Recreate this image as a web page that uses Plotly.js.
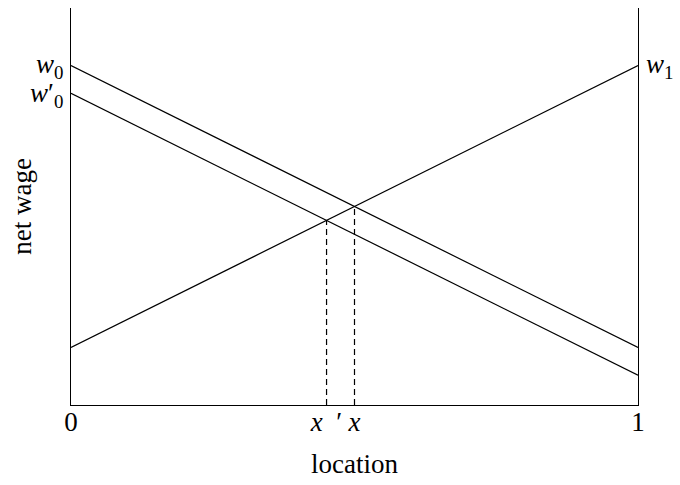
<!DOCTYPE html>
<html>
<head>
<meta charset="utf-8">
<script src="https://cdn.plot.ly/plotly-3.0.1.min.js"></script>
<style>html,body{margin:0;padding:0;background:#fff;}#chart{width:680px;height:485px;}</style>
</head>
<body>
<div id="chart"></div>
<script>
// Data
var locX = [0, 1];
var w0Line = [0.855, 0.145];      // net wage of location 0 (original)
var w0PrimeLine = [0.785, 0.075]; // net wage of location 0 (after change)
var w1Line = [0.145, 0.855];      // net wage of location 1
var xTickText = ["0", "<i>x</i>\u00a0\u00a0\u2032", "<i>x</i>", "1"];

function cross(a, b) {
  // intersection of two straight lines given by their values at x=0 and x=1
  var sa = a[1] - a[0], sb = b[1] - b[0];
  var x = (b[0] - a[0]) / (sa - sb);
  return {x: x, y: a[0] + sa * x};
}
var pStar = cross(w0Line, w1Line);
var pPrime = cross(w0PrimeLine, w1Line);

var serif = "'Liberation Serif', 'DejaVu Serif', serif";
var solid = {color: "#000", width: 1.2};
var dashed = {color: "#000", width: 1.2, dash: "6px,4px"};

var traces = [
  {x: locX, y: w0Line, mode: "lines", line: solid, hoverinfo: "skip"},
  {x: locX, y: w0PrimeLine, mode: "lines", line: solid, hoverinfo: "skip"},
  {x: locX, y: w1Line, mode: "lines", line: solid, hoverinfo: "skip"},
  {x: [pPrime.x, pPrime.x], y: [0, pPrime.y], mode: "lines", line: dashed, hoverinfo: "skip"},
  {x: [pStar.x, pStar.x], y: [0, pStar.y], mode: "lines", line: dashed, hoverinfo: "skip"}
];

var f = {family: serif, size: 27, color: "#000"};

var layout = {
  width: 680, height: 485,
  margin: {l: 71, r: 42, t: 8, b: 80},
  paper_bgcolor: "#fff", plot_bgcolor: "#fff",
  showlegend: false,
  font: f,
  xaxis: {
    range: [0, 1], showgrid: false, zeroline: false,
    showline: true, linecolor: "#000", linewidth: 1.2, mirror: false,
    ticks: "", tickvals: [0, pPrime.x, pStar.x, 1], ticktext: xTickText,
    tickfont: f, ticklabelstandoff: -8,
    title: {text: "location", font: f, standoff: 18}
  },
  yaxis: {
    range: [0, 1], showgrid: false, zeroline: false,
    showline: true, linecolor: "#000", linewidth: 1.2, mirror: true,
    ticks: "", showticklabels: false,
    title: {text: "net wage", font: f, standoff: 30}
  },
  annotations: [
    {x: 0, y: w0Line[0], xref: "x", yref: "y", text: "<i>w</i><sub>0</sub>", showarrow: false,
     xanchor: "right", yanchor: "middle", xshift: -6, font: f},
    {x: 0, y: w0PrimeLine[0], xref: "x", yref: "y", text: "<i>w</i>\u2032<sub>0</sub>", showarrow: false,
     xanchor: "right", yanchor: "middle", xshift: -6, yshift: -2, font: f},
    {x: 1, y: w1Line[1], xref: "x", yref: "y", text: "<i>w</i><sub>1</sub>", showarrow: false,
     xanchor: "left", yanchor: "middle", xshift: 6, font: f}
  ]
};

Plotly.newPlot("chart", traces, layout, {staticPlot: true, displayModeBar: false});
</script>
</body>
</html>
